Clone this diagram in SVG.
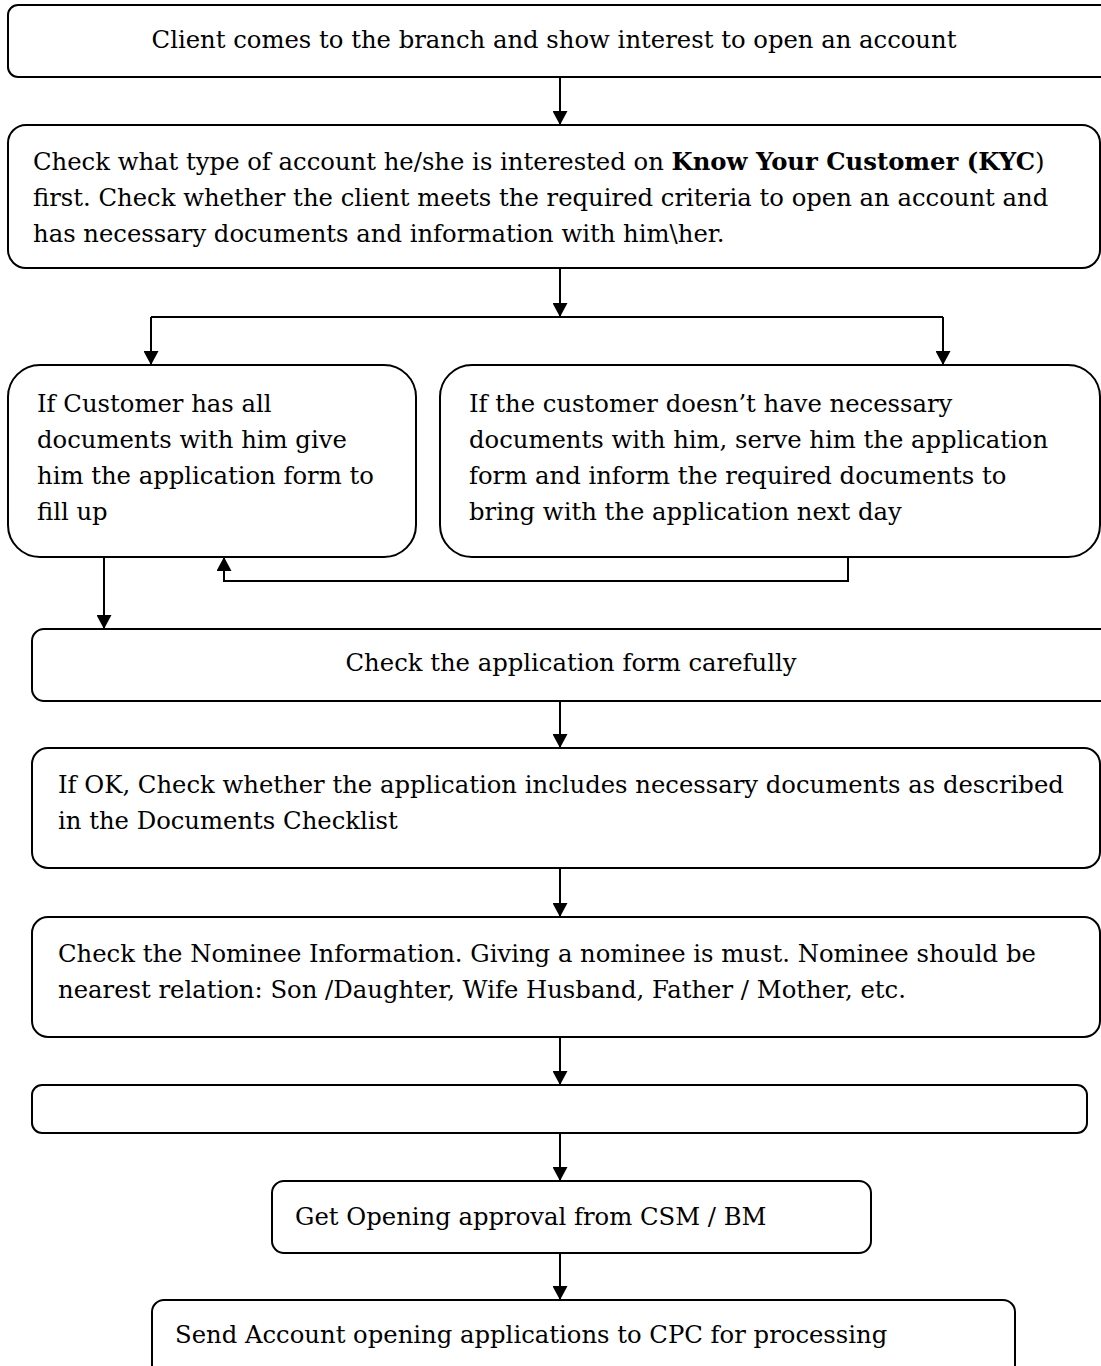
<svg xmlns="http://www.w3.org/2000/svg" width="1101" height="1366" viewBox="0 0 1101 1366">
<style>
.box{fill:#fff;stroke:#000;stroke-width:2}
.t{font-family:"DejaVu Serif","Liberation Serif",serif;font-size:24.3px;fill:#000}
.c{fill:none;stroke:#000;stroke-width:2}
</style>
<defs>
<marker id="ah" markerUnits="userSpaceOnUse" markerWidth="14" markerHeight="15" refX="14" refY="7.5" orient="auto">
<path d="M0,0 L14,7.5 L0,15 z" fill="#000"/>
</marker>
</defs>
<rect width="1101" height="1366" fill="#fff"/>
<g id="n1"><rect class="box" x="8" y="5" width="1110" height="72" rx="10"/>
<text class="t" x="554" y="48" text-anchor="middle">Client comes to the branch and show interest to open an account</text></g>
<g id="n2"><rect class="box" x="8" y="125" width="1092" height="143" rx="18"/>
<text class="t" x="33" y="170">Check what type of account he/she is interested on <tspan font-weight="bold">Know Your Customer (KYC</tspan>)</text>
<text class="t" x="33" y="206">first. Check whether the client meets the required criteria to open an account and</text>
<text class="t" x="33" y="242">has necessary documents and information with him\her.</text></g>
<g id="n3"><rect class="box" x="8" y="365" width="408" height="192" rx="32"/>
<text class="t" x="37" y="412">If Customer has all</text>
<text class="t" x="37" y="448">documents with him give</text>
<text class="t" x="37" y="484">him the application form to</text>
<text class="t" x="37" y="520">fill up</text></g>
<g id="n4"><rect class="box" x="440" y="365" width="660" height="192" rx="32"/>
<text class="t" x="469" y="412">If the customer doesn’t have necessary</text>
<text class="t" x="469" y="448">documents with him, serve him the application</text>
<text class="t" x="469" y="484">form and inform the required documents to</text>
<text class="t" x="469" y="520">bring with the application next day</text></g>
<g id="n5"><rect class="box" x="32" y="629" width="1090" height="72" rx="12"/>
<text class="t" x="571" y="671" text-anchor="middle">Check the application form carefully</text></g>
<g id="n6"><rect class="box" x="32" y="748" width="1068" height="120" rx="16"/>
<text class="t" x="58" y="793">If OK, Check whether the application includes necessary documents as described</text>
<text class="t" x="58" y="829">in the Documents Checklist</text></g>
<g id="n7"><rect class="box" x="32" y="917" width="1068" height="120" rx="16"/>
<text class="t" x="58" y="962">Check the Nominee Information. Giving a nominee is must. Nominee should be</text>
<text class="t" x="58" y="998">nearest relation: Son /Daughter, Wife Husband, Father / Mother, etc.</text></g>
<g id="n8"><rect class="box" x="32" y="1085" width="1055" height="48" rx="10"/></g>
<g id="n9"><rect class="box" x="272" y="1181" width="599" height="72" rx="12"/>
<text class="t" x="295" y="1225">Get Opening approval from CSM / BM</text></g>
<g id="n10"><rect class="box" x="152" y="1300" width="863" height="100" rx="12"/>
<text class="t" x="175" y="1343">Send Account opening applications to CPC for processing</text></g>
<g id="connectors">
<path class="c" d="M560,77 V125" marker-end="url(#ah)"/>
<path class="c" d="M560,268 V317" marker-end="url(#ah)"/>
<path class="c" d="M151,317 H943"/>
<path class="c" d="M151,317 V365" marker-end="url(#ah)"/>
<path class="c" d="M943,317 V365" marker-end="url(#ah)"/>
<path class="c" d="M848,557 V581 H224 V557" marker-end="url(#ah)"/>
<path class="c" d="M104,557 V629" marker-end="url(#ah)"/>
<path class="c" d="M560,701 V748" marker-end="url(#ah)"/>
<path class="c" d="M560,868 V917" marker-end="url(#ah)"/>
<path class="c" d="M560,1037 V1085" marker-end="url(#ah)"/>
<path class="c" d="M560,1133 V1181" marker-end="url(#ah)"/>
<path class="c" d="M560,1253 V1300" marker-end="url(#ah)"/>
</g>
</svg>
